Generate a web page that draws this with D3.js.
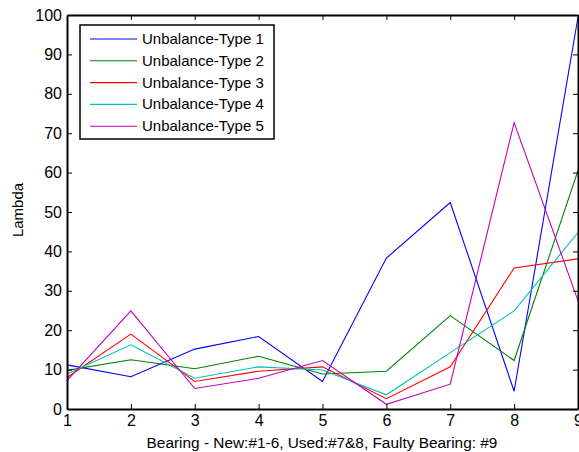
<!DOCTYPE html>
<html>
<head>
<meta charset="utf-8">
<script src="https://cdn.jsdelivr.net/npm/d3@7"></script>
<style>
  html, body { margin: 0; padding: 0; background: #fff; }
  svg { display: block; font-family: "Liberation Sans", Arial, sans-serif; }
</style>
</head>
<body>
<svg id="chart" width="579" height="452"></svg>
<script>
// Bearing index (x) and Lambda values per unbalance type
const bearings = [1, 2, 3, 4, 5, 6, 7, 8, 9];
const seriesNames = ["Unbalance-Type 1", "Unbalance-Type 2", "Unbalance-Type 3", "Unbalance-Type 4", "Unbalance-Type 5"];
const type1 = [11.2, 8.2, 15.2, 18.4, 7.0, 38.3, 52.4, 4.5, 99.5];
const type2 = [9.8, 12.5, 10.2, 13.4, 8.9, 9.6, 23.7, 12.3, 60.5];
const type3 = [8.0, 19.0, 7.0, 9.6, 10.7, 2.6, 10.7, 35.8, 38.1];
const type4 = [8.9, 16.3, 7.8, 10.7, 9.9, 3.6, 14.3, 24.9, 44.8];
const type5 = [7.2, 24.9, 5.2, 7.8, 12.3, 1.2, 6.3, 72.7, 27.5];
const seriesColors = ["#0000ff", "#008000", "#ff0000", "#00bfbf", "#bf00bf"];
const xTicks = [1, 2, 3, 4, 5, 6, 7, 8, 9];
const yTicks = [0, 10, 20, 30, 40, 50, 60, 70, 80, 90, 100];

const allSeries = [type1, type2, type3, type4, type5];

const svg = d3.select("#chart");
const plotLeft = 67, plotRight = 578, plotTop = 15, plotBottom = 409;

const x = d3.scaleLinear().domain([1, 9]).range([plotLeft, plotRight]);
const y = d3.scaleLinear().domain([0, 100]).range([plotBottom, plotTop]);

// Lines
const line = d3.line().x((d, i) => x(bearings[i])).y(d => y(d));
const plot = svg.append("g");
allSeries.forEach((s, k) => {
  plot.append("path")
    .datum(s)
    .attr("d", line)
    .attr("fill", "none")
    .attr("stroke", seriesColors[k])
    .attr("stroke-width", 1.1);
});

// Axes (inward ticks on all four sides, MATLAB-style box)
const fs = "16px";
const gx = svg.append("g").attr("transform", `translate(0,${plotBottom})`)
  .call(d3.axisBottom(x).tickValues(xTicks).tickFormat(d3.format("d")).tickSizeInner(-5).tickSizeOuter(0).tickPadding(6));
const gy = svg.append("g").attr("transform", `translate(${plotLeft},0)`)
  .call(d3.axisLeft(y).tickValues(yTicks).tickFormat(d3.format("d")).tickSizeInner(-5).tickSizeOuter(0).tickPadding(5));
const gt = svg.append("g").attr("transform", `translate(0,${plotTop})`)
  .call(d3.axisTop(x).tickValues(xTicks).tickFormat("").tickSizeInner(-5).tickSizeOuter(0));
const gr = svg.append("g").attr("transform", `translate(${plotRight},0)`)
  .call(d3.axisRight(y).tickValues(yTicks).tickFormat("").tickSizeInner(-5).tickSizeOuter(0));

[gx, gy, gt, gr].forEach(g => {
  g.select(".domain").attr("stroke", "#000").attr("stroke-width", 2);
  g.selectAll(".tick line").attr("stroke", "#000").attr("stroke-width", 1);
  g.selectAll(".tick text").attr("fill", "#000").style("font-size", fs)
    .style("font-family", "Liberation Sans, Arial, sans-serif");
});

// Axis titles
svg.append("text")
  .attr("x", 322).attr("y", 448)
  .attr("text-anchor", "middle")
  .style("font-size", "15.4px")
  .text("Bearing - New:#1-6, Used:#7&8, Faulty Bearing: #9");

svg.append("text")
  .attr("transform", "translate(23,210) rotate(-90)")
  .attr("text-anchor", "middle")
  .style("font-size", "15px")
  .text("Lambda");

// Legend
const lg = svg.append("g");
lg.append("rect")
  .attr("x", 80).attr("y", 25).attr("width", 194).attr("height", 114)
  .attr("fill", "#fff").attr("stroke", "#000").attr("stroke-width", 1.5);
seriesNames.forEach((name, k) => {
  const yy = 39 + k * 21.8;
  lg.append("line")
    .attr("x1", 90).attr("x2", 137).attr("y1", yy).attr("y2", yy)
    .attr("stroke", seriesColors[k]).attr("stroke-width", 1.1);
  lg.append("text")
    .attr("x", 142).attr("y", yy + 5)
    .style("font-size", "15px")
    .text(name);
});
</script>
</body>
</html>
